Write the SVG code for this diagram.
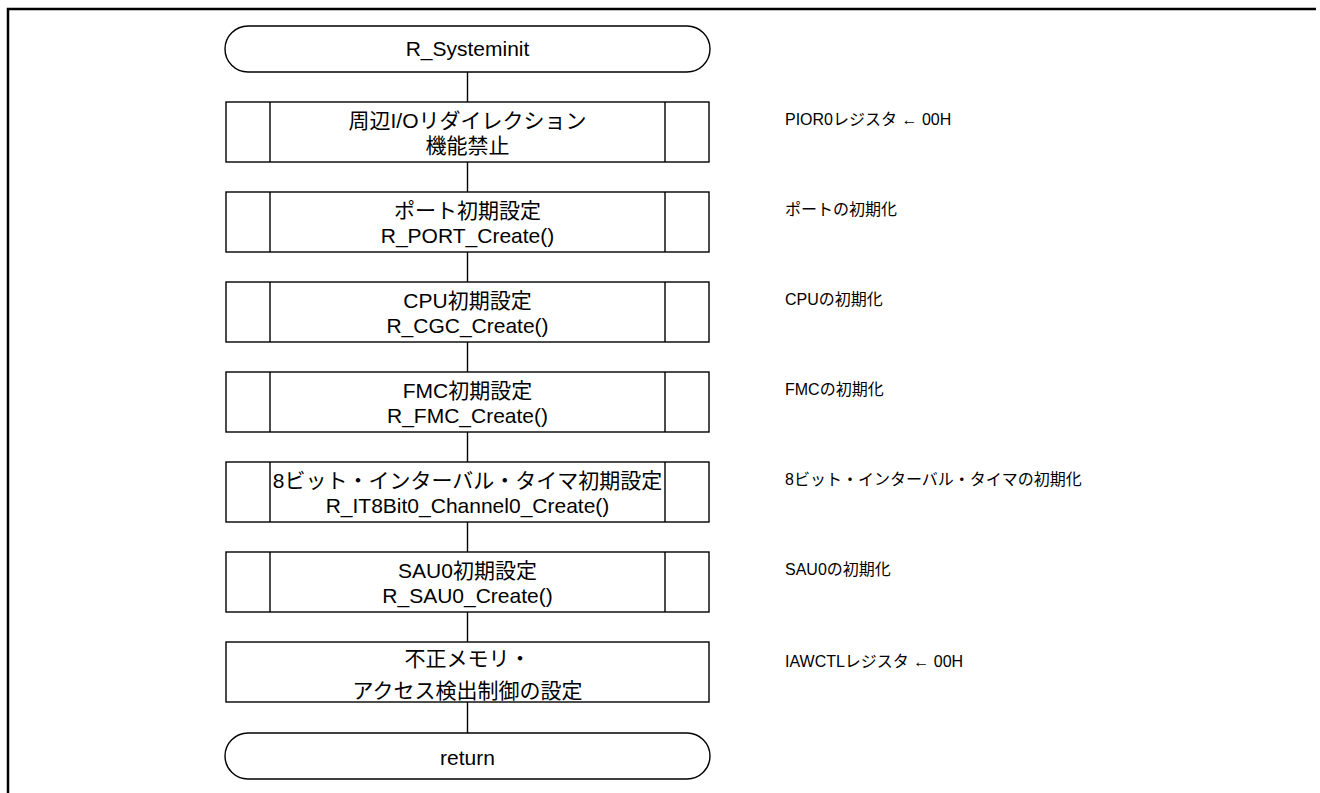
<svg xmlns="http://www.w3.org/2000/svg" width="1320" height="793" viewBox="0 0 1320 793">
<style>
.s{fill:#fff;stroke:#000;stroke-width:1.4}
.l{stroke:#000;stroke-width:1.4;fill:none}
.t{font-family:"Liberation Sans","Noto Sans CJK JP",sans-serif;font-size:21px;fill:#000;text-anchor:middle}
.n{font-family:"Liberation Sans","Noto Sans CJK JP",sans-serif;font-size:16px;fill:#000}
</style>
<rect width="1320" height="793" fill="#fff"/>
<path d="M8,793 V9 H1316" fill="none" stroke="#000" stroke-width="2.5"/>
<g id="connectors">
<path class="l" d="M467.5,72 V102 M467.5,162 V192 M467.5,252 V282 M467.5,342 V372 M467.5,432 V462 M467.5,522 V552 M467.5,612 V642 M467.5,702 V733"/>
</g>
<g id="start">
<rect class="s" x="225" y="26" width="485" height="46" rx="23"/>
<text class="t" x="467.5" y="56">R_Systeminit</text>
</g>
<g id="n1">
<rect class="s" x="226" y="102" width="483" height="60"/>
<path class="l" d="M270,102 V162 M665,102 V162"/>
<text class="t" x="467.5" y="127.5">周辺I/Oリダイレクション</text>
<text class="t" x="467.5" y="152.5">機能禁止</text>
<text class="n" x="785" y="124.5">PIOR0レジスタ ← 00H</text>
</g>
<g id="n2">
<rect class="s" x="226" y="192" width="483" height="60"/>
<path class="l" d="M270,192 V252 M665,192 V252"/>
<text class="t" x="467.5" y="217.5">ポート初期設定</text>
<text class="t" x="467.5" y="242.5">R_PORT_Create()</text>
<text class="n" x="785" y="214.5">ポートの初期化</text>
</g>
<g id="n3">
<rect class="s" x="226" y="282" width="483" height="60"/>
<path class="l" d="M270,282 V342 M665,282 V342"/>
<text class="t" x="467.5" y="307.5">CPU初期設定</text>
<text class="t" x="467.5" y="332.5">R_CGC_Create()</text>
<text class="n" x="785" y="304.5">CPUの初期化</text>
</g>
<g id="n4">
<rect class="s" x="226" y="372" width="483" height="60"/>
<path class="l" d="M270,372 V432 M665,372 V432"/>
<text class="t" x="467.5" y="397.5">FMC初期設定</text>
<text class="t" x="467.5" y="422.5">R_FMC_Create()</text>
<text class="n" x="785" y="394.5">FMCの初期化</text>
</g>
<g id="n5">
<rect class="s" x="226" y="462" width="483" height="60"/>
<path class="l" d="M270,462 V522 M665,462 V522"/>
<text class="t" x="467.5" y="487.5">8ビット・インターバル・タイマ初期設定</text>
<text class="t" x="467.5" y="512.5">R_IT8Bit0_Channel0_Create()</text>
<text class="n" x="785" y="484.5">8ビット・インターバル・タイマの初期化</text>
</g>
<g id="n6">
<rect class="s" x="226" y="552" width="483" height="60"/>
<path class="l" d="M270,552 V612 M665,552 V612"/>
<text class="t" x="467.5" y="577.5">SAU0初期設定</text>
<text class="t" x="467.5" y="602.5">R_SAU0_Create()</text>
<text class="n" x="785" y="574.5">SAU0の初期化</text>
</g>
<g id="n7">
<rect class="s" x="226" y="642" width="483" height="60"/>
<text class="t" x="467.5" y="665.5">不正メモリ・</text>
<text class="t" x="467.5" y="697.5">アクセス検出制御の設定</text>
<text class="n" x="785" y="667">IAWCTLレジスタ ← 00H</text>
</g>
<g id="end">
<rect class="s" x="225" y="733" width="485" height="46" rx="23"/>
<text class="t" x="467.5" y="765">return</text>
</g>
</svg>
